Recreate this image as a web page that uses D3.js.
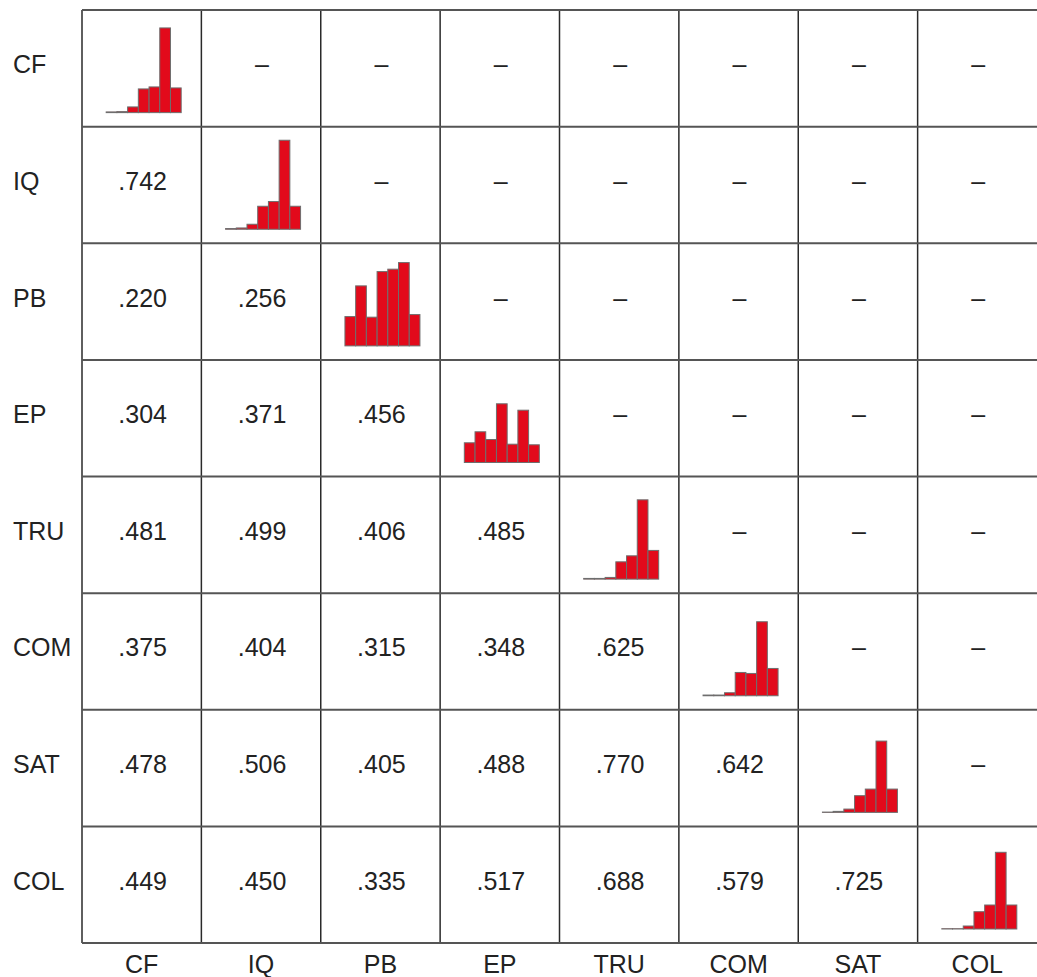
<!DOCTYPE html>
<html>
<head>
<meta charset="utf-8">
<script src="https://cdn.jsdelivr.net/npm/d3@7"></script>
<style>
  body { margin: 0; background: #fff; }
  svg text { font-family: "Liberation Sans", Arial, sans-serif; fill: #222; }
</style>
</head>
<body>
<div class="chart"></div>
<script>
// variables (rows and columns)
const vars = ["CF", "IQ", "PB", "EP", "TRU", "COM", "SAT", "COL"];

// lower triangle correlations, row by row
const corrs = [
   [],
   [".742"],
   [".220", ".256"],
   [".304", ".371", ".456"],
   [".481", ".499", ".406", ".485"],
   [".375", ".404", ".315", ".348", ".625"],
   [".478", ".506", ".405", ".488", ".770", ".642"],
   [".449", ".450", ".335", ".517", ".688", ".579", ".725"]
];

// histogram counts on the diagonal (7 bins each)
const histCF = [0.7, 1, 5.7, 23.7, 25.7, 84.7, 24.7];
const histIQ = [0.7, 1.3, 5, 23, 27.7, 89, 23];
const histPB = [29.3, 60, 28.7, 74.3, 76.7, 83.3, 31.3];
const histEP = [19.7, 30.7, 23, 58.7, 18.3, 52.3, 17.7];
const histTRU = [0.7, 0.7, 1.7, 17.3, 23.3, 79.3, 28.7];
const histCOM = [0.7, 0.7, 3, 23.3, 22.3, 74, 27.3];
const histSAT = [0.3, 1, 3.3, 16.7, 23.3, 71.3, 23.3];
const histCOL = [0.3, 0.3, 3, 17.3, 24, 76.7, 24];
const hists = [histCF, histIQ, histPB, histEP, histTRU, histCOM, histSAT, histCOL];

// setup
const width = 1037;
const height = 977;
const gridLeft = 82;
const gridTop = 10;
const gridBottom = 943;

const svg = d3
   .select(".chart")
   .append("svg")
   .attr("width", width)
   .attr("height", height);

const xScale = d3.scaleBand().domain(vars).range([gridLeft, width]);
const yScale = d3.scaleBand().domain(vars).range([gridTop, gridBottom]);
const cw = xScale.bandwidth();
const ch = yScale.bandwidth();

// grid lines
const grid = svg.append("g");
grid
   .selectAll("line.v")
   .data(vars)
   .enter()
   .append("line")
   .attr("class", "v")
   .attr("x1", (d) => xScale(d))
   .attr("x2", (d) => xScale(d))
   .attr("y1", gridTop)
   .attr("y2", gridBottom)
   .attr("stroke", "#2a2a2a")
   .attr("stroke-width", 1.5);
grid
   .selectAll("line.h")
   .data(vars.concat(["end"]))
   .enter()
   .append("line")
   .attr("class", "h")
   .attr("x1", gridLeft)
   .attr("x2", width)
   .attr("y1", (d) => (d === "end" ? gridBottom : yScale(d)))
   .attr("y2", (d) => (d === "end" ? gridBottom : yScale(d)))
   .attr("stroke", "#555")
   .attr("stroke-width", 2);

// row labels
svg
   .selectAll("text.row")
   .data(vars)
   .enter()
   .append("text")
   .attr("class", "row")
   .attr("x", 13)
   .attr("y", (d) => yScale(d) + ch / 2 + 5)
   .attr("font-size", 25)
   .text((d) => d);

// column labels
svg
   .selectAll("text.col")
   .data(vars)
   .enter()
   .append("text")
   .attr("class", "col")
   .attr("x", (d) => xScale(d) + cw / 2)
   .attr("y", 973)
   .attr("text-anchor", "middle")
   .attr("font-size", 25)
   .text((d) => d);

// cells: correlations below, dashes above
const cells = [];
vars.forEach((r, i) => {
   vars.forEach((c, j) => {
      if (i > j) cells.push({ r, c, t: corrs[i][j] });
      else if (i < j) cells.push({ r, c, t: "\u2013" });
   });
});
svg
   .selectAll("text.cell")
   .data(cells)
   .enter()
   .append("text")
   .attr("class", "cell")
   .attr("x", (d) => xScale(d.c) + cw / 2 + 1)
   .attr("y", (d) => yScale(d.r) + ch / 2 + 5)
   .attr("text-anchor", "middle")
   .attr("font-size", 25)
   .text((d) => d.t);

// diagonal histograms
const histW = 75;
const binScale = d3.scaleBand().domain(d3.range(7)).range([0, histW]).padding(0);
const countScale = d3.scaleLinear().domain([0, 100]).range([0, 100]);

vars.forEach((v, i) => {
   const g = svg
      .append("g")
      .attr(
         "transform",
         `translate(${xScale(v) + cw / 2 - histW / 2 + 2}, ${yScale(v) + ch - 14})`
      );
   g.selectAll("rect")
      .data(hists[i])
      .enter()
      .append("rect")
      .attr("x", (d, k) => binScale(k))
      .attr("y", (d) => -countScale(d))
      .attr("width", binScale.bandwidth())
      .attr("height", (d) => countScale(d))
      .attr("fill", "#e20a1b")
      .attr("stroke", "#6e6e6e")
      .attr("stroke-width", 1);
});
</script>
</body>
</html>
